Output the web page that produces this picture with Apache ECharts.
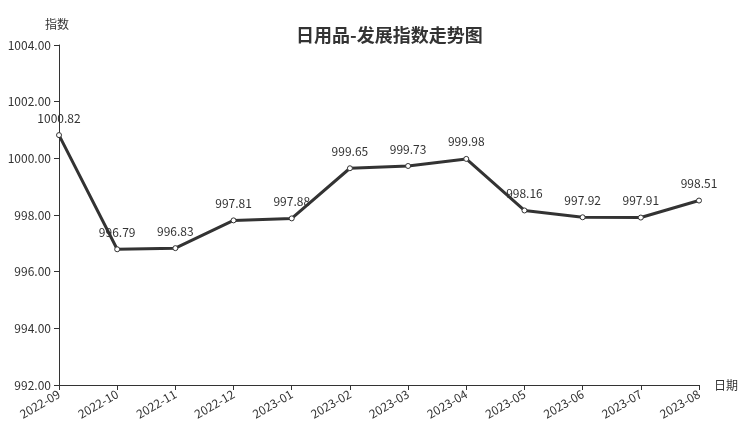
<!DOCTYPE html>
<html><head><meta charset="utf-8">
<script src="https://cdn.jsdelivr.net/npm/echarts@6/dist/echarts.min.js"></script>
<style>html,body{margin:0;padding:0;background:#fff}#c{width:752px;height:427px}</style>
</head><body><div id="c"></div>
<script>
const categories = ['2022-09','2022-10','2022-11','2022-12','2023-01','2023-02','2023-03','2023-04','2023-05','2023-06','2023-07','2023-08'];
const values = [1000.82, 996.79, 996.83, 997.81, 997.88, 999.65, 999.73, 999.98, 998.16, 997.92, 997.91, 998.51];
const chart = echarts.init(document.getElementById('c'));
const font = '"Noto Sans CJK SC", "Noto Sans", sans-serif';
chart.setOption({
  backgroundColor: '#fff',
  textStyle: {fontFamily: font},
  title: {text: '日用品-发展指数走势图', left: 291, top: 21,
    textStyle: {fontSize: 18, fontWeight: 'bold', color: '#333', fontFamily: font}},
  grid: {left: 59, right: 53, top: 45, bottom: 42},
  xAxis: {type: 'category', data: categories, boundaryGap: false,
    name: '日期', nameGap: 15, nameTextStyle: {color: '#333', fontSize: 12, verticalAlign: 'middle'},
    axisLine: {lineStyle: {color: '#333'}},
    axisTick: {alignWithLabel: true, lineStyle: {color: '#333'}},
    axisLabel: {rotate: 30, color: '#333', fontSize: 12, margin: 8, interval: 0}},
  yAxis: {type: 'value', min: 992, max: 1004, interval: 2,
    name: '指数', nameGap: 15, nameTextStyle: {color: '#333', fontSize: 12, align: 'right', padding: [0, -10, 0, 0]},
    axisLine: {show: true, lineStyle: {color: '#333'}},
    axisTick: {show: true, lineStyle: {color: '#333'}},
    splitLine: {show: false},
    axisLabel: {color: '#333', fontSize: 12, formatter: v => v.toFixed(2)}},
  series: [{type: 'line', data: values, symbol: 'circle', symbolSize: 5,
    lineStyle: {color: '#333', width: 3},
    itemStyle: {color: '#fff', borderColor: '#333', borderWidth: 1},
    label: {show: true, position: 'top', color: '#333', fontSize: 12, distance: 8, formatter: p => p.value.toFixed(2)}}]
});
</script></body></html>
